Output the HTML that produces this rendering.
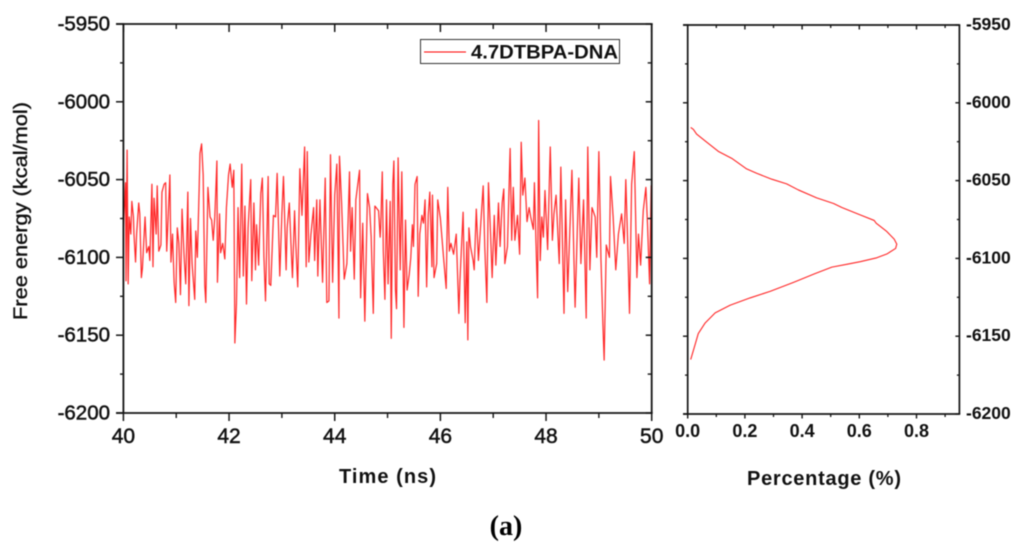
<!DOCTYPE html>
<html lang="en">
<head>
<meta charset="utf-8">
<title>Free energy chart (a)</title>
<style>
html,body{margin:0;padding:0;background:#fff;width:1024px;height:549px;overflow:hidden}
svg{display:block;filter:blur(0.4px)}
text{font-family:"Liberation Sans",Arial,sans-serif;fill:#111}
</style>
</head>
<body>
<svg id="chart" xmlns="http://www.w3.org/2000/svg" width="1024" height="549" viewBox="0 0 1024 549">
  <rect x="0" y="0" width="1024" height="549" fill="#fff"/>
  <g id="left-panel"></g>
  <g id="right-panel"></g>
  <g>
    <rect x="420.5" y="39.5" width="199" height="24" fill="#fff" stroke="#333" stroke-width="1"/>
    <line x1="424" y1="52" x2="466" y2="52" stroke="#f00" stroke-width="1"/>
    <text x="471" y="58.5" font-size="19" font-weight="bold" textLength="147" lengthAdjust="spacingAndGlyphs">4.7DTBPA-DNA</text>
  </g>
  <text transform="translate(27 211) rotate(-90)" text-anchor="middle" font-size="19.5" stroke="#111" stroke-width="0.4" textLength="218" lengthAdjust="spacingAndGlyphs">Free energy (kcal/mol)</text>
  <text x="339" y="483" font-size="20" font-weight="bold" textLength="97" lengthAdjust="spacing">Time (ns)</text>
  <text x="747" y="485" font-size="20" font-weight="bold" textLength="154" lengthAdjust="spacing">Percentage (%)</text>
  <text x="506" y="535" text-anchor="middle" font-size="28" font-weight="bold" style="font-family:'Liberation Serif',serif;fill:#000">(a)</text>
</svg>
<script>
// Time series data (ns, kcal/mol)
const times = [
40.00,40.04,40.05,40.07,40.09,40.11,40.14,40.16,40.19,40.20,
40.23,40.25,40.29,40.31,40.34,40.36,40.39,40.41,40.44,40.48,
40.50,40.54,40.56,40.58,40.62,40.64,40.67,40.71,40.73,40.77,
40.80,40.82,40.85,40.88,40.90,40.93,40.96,40.99,41.02,41.05,
41.08,41.11,41.15,41.18,41.22,41.24,41.27,41.30,41.35,41.37,
41.40,41.43,41.45,41.48,41.51,41.54,41.56,41.60,41.64,41.67,
41.70,41.73,41.77,41.78,41.82,41.84,41.88,41.92,41.95,41.99,
42.02,42.06,42.09,42.11,42.14,42.17,42.20,42.24,42.27,42.30,
42.33,42.36,42.41,42.43,42.47,42.50,42.52,42.56,42.60,42.63,
42.66,42.69,42.74,42.76,42.79,42.84,42.88,42.91,42.96,43.00,
43.03,43.08,43.10,43.14,43.18,43.20,43.24,43.26,43.30,43.34,
43.38,43.43,43.46,43.48,43.51,43.55,43.60,43.62,43.66,43.68,
43.72,43.77,43.82,43.85,43.89,43.92,43.96,44.00,44.04,44.08,
44.09,44.13,44.18,44.23,44.28,44.30,44.33,44.37,44.40,44.47,
44.49,44.53,44.57,44.62,44.66,44.69,44.73,44.76,44.83,44.86,
44.87,44.90,44.92,44.95,44.98,45.01,45.05,45.07,45.10,45.12,
45.15,45.17,45.20,45.24,45.27,45.31,45.34,45.37,45.41,45.44,
45.47,45.49,45.52,45.56,45.58,45.61,45.65,45.68,45.71,45.74,
45.77,45.80,45.84,45.85,45.88,45.93,45.95,46.00,46.06,46.11,
46.14,46.17,46.20,46.25,46.30,46.35,46.37,46.43,46.47,46.50,
46.52,46.54,46.57,46.62,46.64,46.68,46.72,46.75,46.81,46.84,
46.88,46.91,46.95,46.98,47.02,47.05,47.10,47.13,47.17,47.20,
47.22,47.27,47.32,47.35,47.38,47.41,47.46,47.50,47.53,47.56,
47.60,47.64,47.68,47.71,47.76,47.78,47.81,47.84,47.86,47.89,
47.92,47.95,47.98,48.03,48.08,48.12,48.15,48.19,48.25,48.28,
48.34,48.37,48.41,48.49,48.53,48.55,48.62,48.66,48.71,48.76,
48.79,48.83,48.87,48.93,48.96,49.00,49.04,49.08,49.10,49.14,
49.20,49.22,49.27,49.32,49.37,49.43,49.48,49.51,49.55,49.58,
49.62,49.67,49.72,49.75,49.79,49.84,49.89,49.92,49.96,49.99,
50.00
];
const freeEnergy = [
-6081,-6052,-6115,-6031,-6117,-6074,-6085,-6064,-6074,-6085,
-6103,-6085,-6065,-6072,-6113,-6107,-6087,-6074,-6097,-6093,
-6102,-6053,-6106,-6062,-6085,-6054,-6096,-6092,-6058,-6053,
-6052,-6096,-6072,-6047,-6103,-6085,-6116,-6129,-6081,-6091,
-6124,-6069,-6100,-6117,-6058,-6131,-6075,-6104,-6127,-6083,
-6100,-6061,-6033,-6027,-6047,-6118,-6129,-6055,-6074,-6076,
-6089,-6074,-6038,-6116,-6072,-6097,-6091,-6101,-6068,-6047,
-6040,-6055,-6044,-6155,-6130,-6068,-6113,-6040,-6112,-6067,
-6130,-6081,-6050,-6115,-6065,-6108,-6079,-6105,-6059,-6049,
-6100,-6128,-6048,-6117,-6118,-6073,-6074,-6046,-6112,-6072,
-6048,-6108,-6081,-6065,-6098,-6113,-6070,-6089,-6119,-6043,
-6073,-6029,-6106,-6032,-6103,-6085,-6068,-6102,-6063,-6112,
-6063,-6116,-6049,-6129,-6128,-6034,-6116,-6060,-6040,-6139,
-6035,-6065,-6114,-6104,-6045,-6096,-6068,-6114,-6063,-6044,
-6126,-6078,-6141,-6059,-6068,-6087,-6136,-6067,-6070,-6087,
-6081,-6045,-6096,-6127,-6063,-6117,-6064,-6152,-6053,-6038,
-6121,-6133,-6036,-6108,-6045,-6145,-6076,-6121,-6111,-6100,
-6079,-6093,-6053,-6048,-6125,-6085,-6073,-6078,-6063,-6119,
-6073,-6058,-6106,-6060,-6113,-6104,-6063,-6075,-6100,-6120,
-6055,-6096,-6091,-6098,-6085,-6136,-6115,-6071,-6142,-6090,
-6153,-6081,-6093,-6102,-6108,-6069,-6102,-6086,-6054,-6093,
-6129,-6052,-6085,-6113,-6073,-6105,-6065,-6093,-6065,-6056,
-6104,-6093,-6030,-6089,-6055,-6089,-6073,-6098,-6026,-6060,
-6049,-6077,-6068,-6074,-6082,-6052,-6091,-6126,-6012,-6102,
-6074,-6087,-6057,-6095,-6029,-6089,-6072,-6060,-6104,-6042,
-6136,-6063,-6122,-6044,-6104,-6132,-6049,-6104,-6063,-6139,
-6029,-6108,-6068,-6074,-6100,-6032,-6102,-6147,-6166,-6092,
-6100,-6048,-6074,-6108,-6085,-6072,-6091,-6050,-6096,-6136,
-6053,-6032,-6113,-6085,-6105,-6070,-6055,-6078,-6117,-6054,
-6100
];
// Distribution data (percent, kcal/mol)
const distPercent = [0.0105,0.02,0.031,0.066,0.107,0.154,0.206,0.241,0.294,0.346,0.387,0.451,0.510,0.539,0.603,0.652,0.659,0.696,0.722,0.731,0.727,0.696,0.661,0.603,0.556,0.504,0.445,0.370,0.288,0.218,0.148,0.096,0.061,0.037,0.026,0.0105];
const distEnergy = [-6015.8,-6017.1,-6020.1,-6025.2,-6031.2,-6035.7,-6042.5,-6045.3,-6049.1,-6052.1,-6056,-6061.1,-6064.7,-6067.3,-6072,-6075.6,-6077.4,-6082.7,-6087.6,-6090.8,-6093.6,-6097.2,-6099.6,-6102.1,-6103.8,-6105.6,-6109.8,-6115.4,-6121.2,-6125.4,-6130.1,-6135,-6141.5,-6148.3,-6155.3,-6165];
// Tick values
const energyTicks = [-5950,-6000,-6050,-6100,-6150,-6200];
const energyMinorTicks = [-5975,-6025,-6075,-6125,-6175];
const timeTicks = [40,42,44,46,48,50];
const timeMinorTicks = [41,43,45,47,49];
const percentTicks = ["0.0","0.2","0.4","0.6","0.8"];
const percentMinorTicks = [0.1,0.3,0.5,0.7,0.9];

const NS = 'http://www.w3.org/2000/svg';
const AXIS = '#151515';
// Axis functions
function xTime(t){ return 123.4 + (t - 40) * 52.83; }
function yEnergy(e){ return 24 + (-5950 - e) * 1.556; }
function xPercent(p){ return 687.7 + p * 286; }
function yDist(e){ return 25 + (-5950 - e) * 1.556; }

const left = document.getElementById('left-panel');
const right = document.getElementById('right-panel');

function makeLine(parent, x1, y1, x2, y2, w){
  const l = document.createElementNS(NS, 'line');
  l.setAttribute('x1', x1);
  l.setAttribute('y1', y1);
  l.setAttribute('x2', x2);
  l.setAttribute('y2', y2);
  l.setAttribute('stroke', AXIS);
  l.setAttribute('stroke-width', w);
  parent.appendChild(l);
  return l;
}
function makeText(parent, x, y, str, size, anchor, bold){
  const t = document.createElementNS(NS, 'text');
  t.setAttribute('x', x);
  t.setAttribute('y', y);
  t.setAttribute('font-size', size);
  t.setAttribute('text-anchor', anchor);
  if (bold) t.setAttribute('font-weight', 'bold');
  else { t.setAttribute('stroke', '#111'); t.setAttribute('stroke-width', '0.5'); }
  t.textContent = str;
  parent.appendChild(t);
  return t;
}
function makePath(parent, pts){
  const p = document.createElementNS(NS, 'polyline');
  p.setAttribute('points', pts.join(' '));
  p.setAttribute('fill', 'none');
  p.setAttribute('stroke', '#ff0000');
  p.setAttribute('stroke-linejoin', 'round');
  parent.appendChild(p);
  return p;
}

// ---- Left panel ----
const n = Math.min(times.length, freeEnergy.length);
const tracePts = [];
for (let i = 0; i < n; i++) {
  tracePts.push(xTime(times[i]).toFixed(2) + ',' + yEnergy(freeEnergy[i]).toFixed(2));
}
const trace = makePath(left, tracePts);
trace.setAttribute('stroke-width', '1.2');
trace.setAttribute('stroke-opacity', '0.85');



const leftFrame = [
  [xTime(40), yEnergy(-5950) - 0.8, xTime(40), yEnergy(-6200) + 0.8, 'left-panel-left-spine'],
  [116, yEnergy(-5950), xTime(50) + 1, yEnergy(-5950), 'left-panel-top-spine'],
  [116, yEnergy(-6200), xTime(50) + 1, yEnergy(-6200), 'left-panel-bottom-spine'],
  [xTime(50), yEnergy(-5950), xTime(50), yEnergy(-6200), 'left-panel-right-spine']
];
leftFrame.forEach(function (f) {
  const s = makeLine(left, f[0], f[1], f[2], f[3], 1.8);
  
  
});

energyTicks.forEach(function (e) {
  const y = yEnergy(e);
  const a = makeLine(left, 116, y, xTime(40), y, 1.5);
  
  
  const b = makeLine(left, xTime(50) - 6, y, xTime(50), y, 1.5);
  
  
  const lab = makeText(left, 110, y + 6.5, String(e), 20.5, 'end', false);
  
  
});
energyMinorTicks.forEach(function (e) {
  const y = yEnergy(e);
  const a = makeLine(left, 120, y, xTime(40), y, 1.4);
  
  
  const b = makeLine(left, xTime(50) - 4, y, xTime(50), y, 1.4);
  
  
});
timeTicks.forEach(function (t) {
  const x = xTime(t);
  const a = makeLine(left, x, yEnergy(-6200), x, yEnergy(-6200) + 8, 1.5);
  
  
  const b = makeLine(left, x, yEnergy(-5950), x, yEnergy(-5950) + 8, 1.5);
  
  
  const lab = makeText(left, x, 443, String(t), 21, 'middle', false);
  
  
});
timeMinorTicks.forEach(function (t) {
  const x = xTime(t);
  const a = makeLine(left, x, yEnergy(-6200), x, yEnergy(-6200) + 5, 1.4);
  
  
  const b = makeLine(left, x, yEnergy(-5950), x, yEnergy(-5950) + 5, 1.4);
  
  
});

// ---- Right panel ----
const distPts = [];
for (let i = 0; i < distPercent.length; i++) {
  distPts.push(xPercent(distPercent[i]).toFixed(2) + ',' + yDist(distEnergy[i]).toFixed(2));
}
const curve = makePath(right, distPts);
curve.setAttribute('stroke-width', '1.1');
curve.setAttribute('stroke-opacity', '0.85');



const rightFrame = [
  [xPercent(0), yDist(-5950) - 0.8, xPercent(0), yDist(-6200) + 0.8, 'right-panel-left-spine'],
  [683, yDist(-5950), xPercent(0.95) + 0.8, yDist(-5950), 'right-panel-top-spine'],
  [683, yDist(-6200), xPercent(0.95) + 0.8, yDist(-6200), 'right-panel-bottom-spine'],
  [xPercent(0.95), yDist(-5950), xPercent(0.95), yDist(-6200), 'right-panel-right-spine']
];
rightFrame.forEach(function (f) {
  const s = makeLine(right, f[0], f[1], f[2], f[3], 1.7);
  
  
});
energyTicks.forEach(function (e) {
  const y = yDist(e);
  const a = makeLine(right, 683, y, xPercent(0), y, 1.4);
  
  
  const b = makeLine(right, xPercent(0.95) - 4, y, xPercent(0.95), y, 1.4);
  
  
  const lab = makeText(right, 966, y + 5, String(e), 17.5, 'start', true);
  
  
});
energyMinorTicks.forEach(function (e) {
  const y = yDist(e);
  const a = makeLine(right, 685, y, xPercent(0), y, 1.3);
  
  
  const b = makeLine(right, xPercent(0.95) - 2.5, y, xPercent(0.95), y, 1.3);
  
  
});
percentTicks.forEach(function (p) {
  const x = xPercent(parseFloat(p));
  const a = makeLine(right, x, yDist(-6200), x, yDist(-6200) + 4.5, 1.4);
  
  
  const b = makeLine(right, x, yDist(-5950), x, yDist(-5950) + 4.5, 1.4);
  
  
  const lab = makeText(right, x, 437, p, 18, 'middle', true);
  
  
});
percentMinorTicks.forEach(function (p) {
  const x = xPercent(p);
  const a = makeLine(right, x, yDist(-6200), x, yDist(-6200) + 3, 1.3);
  
  
  const b = makeLine(right, x, yDist(-5950), x, yDist(-5950) + 3, 1.3);
  
  
});
</script>
</body>
</html>
